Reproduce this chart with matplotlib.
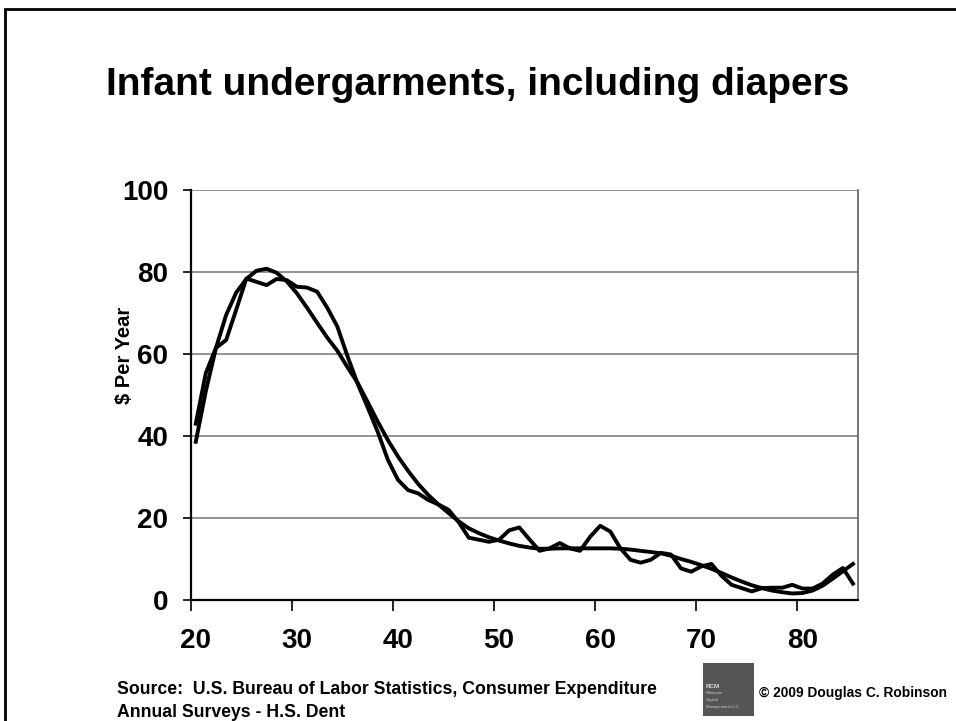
import matplotlib
matplotlib.use("Agg")
import matplotlib.pyplot as plt
from matplotlib.patches import Rectangle

plt.rcParams['font.family'] = ['Liberation Sans', 'DejaVu Sans']
plt.rcParams['font.weight'] = 'bold'

# ages (categories) and the two series
ages = list(range(20, 86))
smooth = [38.6, 51.0, 61.5, 69.5, 75.0, 78.3, 80.3, 80.8, 79.8, 77.7,
          74.8, 71.3, 67.6, 64.0, 60.8, 56.8, 53.0, 48.3, 43.5, 39.0,
          35.0, 31.5, 28.3, 25.6, 23.3, 21.2, 19.2, 17.5, 16.3, 15.3,
          14.5, 13.8, 13.2, 12.8, 12.5, 12.5, 12.6, 12.6, 12.6, 12.6,
          12.6, 12.6, 12.5, 12.3, 12.0, 11.7, 11.4, 10.8, 10.0, 9.3,
          8.5, 7.6, 6.6, 5.5, 4.5, 3.6, 2.9, 2.3, 1.9, 1.6,
          1.7, 2.3, 3.5, 5.2, 7.0, 8.8]
raw = [43.0, 55.4, 61.5, 63.4, 70.8, 78.4, 77.6, 76.8, 78.3, 78.0,
       76.4, 76.2, 75.2, 71.3, 66.7, 59.5, 52.8, 47.0, 41.0, 34.2,
       29.3, 26.8, 26.0, 24.4, 23.3, 22.0, 19.0, 15.2, 14.7, 14.2,
       14.7, 17.0, 17.7, 14.8, 12.0, 12.6, 13.9, 12.6, 12.0, 15.4,
       18.1, 16.7, 12.6, 9.8, 9.1, 9.8, 11.5, 11.1, 7.7, 6.9,
       8.2, 8.8, 5.9, 3.7, 2.9, 2.1, 2.9, 3.0, 3.0, 3.7,
       2.8, 2.8, 4.0, 6.2, 7.8, 4.0]

y_ticks = [0, 20, 40, 60, 80, 100]
x_labels = [20, 30, 40, 50, 60, 70, 80]

fig = plt.figure(figsize=(9.56, 7.21), dpi=100)
ax = fig.add_axes([0.1995, 0.1678, 0.698, 0.5687])

for v in y_ticks[1:]:
    ax.axhline(v, color='#808080', lw=1.2, zorder=1)

ax.plot(ages, raw, color='black', lw=2.8, zorder=3)
ax.plot(ages, smooth, color='black', lw=2.8, zorder=3)

ax.set_xlim(19.5, 85.5)
ax.set_ylim(0, 100)

ax.set_xticks(x_labels)
ax.set_xticklabels([str(v) for v in x_labels], fontsize=20, fontweight='bold')
ax.set_xticks([b - 0.5 for b in x_labels], minor=True)
ax.tick_params(axis='x', which='major', length=0, pad=20)
ax.tick_params(axis='x', which='minor', length=8, width=1.2, direction='out')

ax.set_yticks(y_ticks)
ax.set_yticklabels([str(v) for v in y_ticks], fontsize=20, fontweight='bold')
ax.tick_params(axis='y', length=6, width=1.2, direction='out', pad=10)

ax.spines['top'].set_visible(False)
ax.spines['right'].set_color('#606060')
ax.spines['right'].set_linewidth(1.2)
ax.spines['left'].set_linewidth(1.6)
ax.spines['bottom'].set_linewidth(1.6)

fig.text(125 / 956, 1 - 355 / 721, '$ Per Year', rotation=90, fontsize=14.5,
         fontweight='bold', ha='center', va='center')

fig.text(0.5, 1 - 85 / 721, 'Infant undergarments, including diapers',
         ha='center', va='center', fontsize=28, fontweight='bold')

fig.text(117 / 956, 1 - 701 / 721,
         'Source:  U.S. Bureau of Labor Statistics, Consumer Expenditure\nAnnual Surveys - H.S. Dent',
         ha='left', va='center', fontsize=12.7, fontweight='bold', linespacing=1.45)

# logo block
logo = Rectangle((703 / 956, 1 - 716 / 721), 51 / 956, 53 / 721,
                 transform=fig.transFigure, facecolor='#555555', edgecolor='none')
fig.patches.append(logo)
fig.text(706 / 956, 1 - 686 / 721, 'RCM', fontsize=4.5, color='#dddddd', va='center', ha='left')
fig.text(706 / 956, 1 - 693 / 721, 'Robinson', fontsize=3, color='#cccccc', va='center', ha='left', fontweight='normal')
fig.text(706 / 956, 1 - 700 / 721, 'Capital', fontsize=3, color='#cccccc', va='center', ha='left', fontweight='normal')
fig.text(706 / 956, 1 - 707 / 721, 'Management LLC', fontsize=3, color='#cccccc', va='center', ha='left', fontweight='normal')
fig.text(759 / 956, 1 - 693 / 721, '\u00a9 2009 Douglas C. Robinson', fontsize=9.9,
         fontweight='bold', ha='left', va='center')

# slide frame (cut off at right and bottom)
top = 1 - 8.5 / 721
frame = Rectangle((4.5 / 956, -0.2), 1.2, top + 0.2, transform=fig.transFigure,
                  facecolor='none', edgecolor='black', lw=2)
fig.patches.append(frame)

fig.savefig('out.png', dpi=100, facecolor='white')
